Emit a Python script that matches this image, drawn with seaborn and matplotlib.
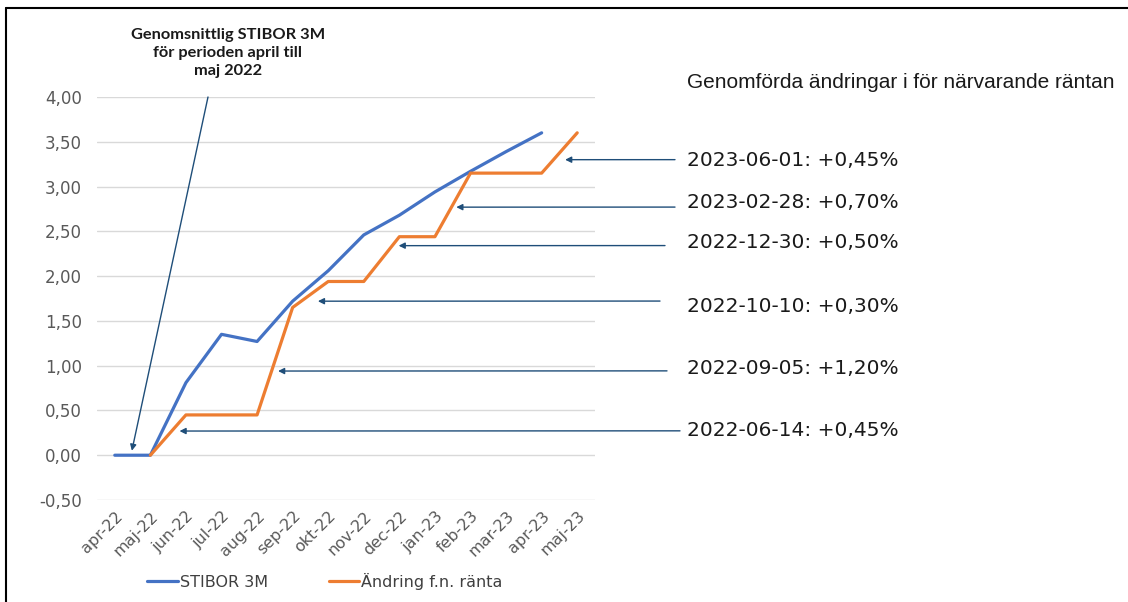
import matplotlib
matplotlib.use("Agg")
import matplotlib.pyplot as plt
import seaborn as sns
import pandas as pd
import numpy as np
from matplotlib.ticker import FuncFormatter, MultipleLocator
from matplotlib.lines import Line2D

# Data (monthly values, percent)
months = ["apr-22", "maj-22", "jun-22", "jul-22", "aug-22", "sep-22", "okt-22",
          "nov-22", "dec-22", "jan-23", "feb-23", "mar-23", "apr-23", "maj-23"]
stibor = [0.00, 0.00, 0.81, 1.35, 1.27, 1.72, 2.06, 2.46, 2.68, 2.94, 3.17, 3.39, 3.60, np.nan]
change = [np.nan, 0.00, 0.45, 0.45, 0.45, 1.65, 1.94, 1.94, 2.44, 2.44, 3.15, 3.15, 3.15, 3.60]
series_names = ["STIBOR 3M", "Ändring f.n. ränta"]

note_labels = ["2023-06-01: +0,45%", "2023-02-28: +0,70%", "2022-12-30: +0,50%",
               "2022-10-10: +0,30%", "2022-09-05: +1,20%", "2022-06-14: +0,45%"]
right_title = "Genomförda ändringar i för närvarande räntan"
left_note = "Genomsnittlig STIBOR 3M\nför perioden april till\nmaj 2022"

# arrow tip (data x, data y), arrow tail x in px, text y in px (image coords)
note_layout = [
    ((12.66, 3.30), 675, 160),
    ((9.60, 2.77), 675, 203),
    ((7.98, 2.34), 665, 243),
    ((5.71, 1.72), 660, 306),
    ((4.59, 0.94), 667, 368),
    ((1.82, 0.27), 680, 431),
]

W, H = 1128, 602

df = pd.DataFrame({"month": months, series_names[0]: stibor, series_names[1]: change})
long_df = df.melt(id_vars="month", var_name="serie", value_name="value").dropna()

sns.set_theme(style="white")
plt.rcParams['font.family'] = ['DejaVu Sans']

fig = plt.figure(figsize=(W / 100, H / 100), dpi=100)
ax = fig.add_axes([97 / W, 1 - 500 / H, (595 - 97) / W, (500 - 97) / H])

sns.lineplot(data=long_df, x="month", y="value", hue="serie", sort=False,
             palette=["#4472C4", "#ED7D31"], linewidth=2.3, ax=ax)

ax.set_xlim(-0.5, 13.5)
ax.set_ylim(-0.5, 4.0)
ax.yaxis.set_major_locator(MultipleLocator(0.5))
ax.yaxis.set_major_formatter(FuncFormatter(lambda v, _: f"{v:.2f}".replace(".", ",")))
ax.grid(axis="y", color="#D9D9D9", linewidth=1)
ax.set_axisbelow(True)
for s in ax.spines.values():
    s.set_visible(False)
ax.set_xlabel("")
ax.set_ylabel("")
ax.tick_params(axis="y", length=0, pad=11, labelsize=12, labelcolor="#595959")
ax.tick_params(axis="x", length=0, pad=6, labelsize=11.5, labelcolor="#595959")
plt.setp(ax.get_xticklabels(), rotation=45, ha="right", rotation_mode="anchor")

# legend below the chart
handles, labels = ax.get_legend_handles_labels()
ax.legend_.remove()
fig.legend(handles, labels, loc="center", bbox_to_anchor=(325 / W, 1 - 581 / H), ncol=2,
           frameon=False, fontsize=11.5, labelcolor="#404040", handlelength=1.9,
           handletextpad=0.15, columnspacing=3.8)

arrow_kw = dict(arrowstyle="-|>", color="#1F4E79", lw=1.0, mutation_scale=9,
                shrinkA=0, shrinkB=0)

# right side notes with arrows
fig.text(687 / W, 1 - 82 / H, right_title, ha="left", va="center",
         fontsize=15, color="#1A1A1A", family=["Liberation Sans"])
for label, (tip, tail_x, text_y) in zip(note_labels, note_layout):
    tip_px_y = H - 455 + tip[1] * 89.5
    ax.annotate("", xy=tip, xycoords="data",
                xytext=(tail_x, tip_px_y), textcoords="figure pixels",
                arrowprops=arrow_kw, annotation_clip=False)
    fig.text(687 / W, 1 - text_y / H, label, ha="left", va="center",
             fontsize=14.5, color="#1A1A1A")

# left note with arrow
fig.text(228 / W, 1 - 53 / H, left_note, ha="center", va="center",
         fontsize=11.8, fontweight="bold", color="#1A1A1A", family=["Lato"],
         linespacing=1.4)
ax.annotate("", xy=(0.48, 0.05), xycoords="data",
            xytext=(208, H - 97), textcoords="figure pixels",
            arrowprops=arrow_kw, annotation_clip=False)

# frame lines (top and left)
fig.add_artist(Line2D([6 / W, 1], [1 - 8 / H, 1 - 8 / H], color="black", lw=1.5,
                      transform=fig.transFigure))
fig.add_artist(Line2D([6 / W, 6 / W], [0, 1 - 8 / H], color="black", lw=1.5,
                      transform=fig.transFigure))

fig.savefig("out.png", dpi=100)
